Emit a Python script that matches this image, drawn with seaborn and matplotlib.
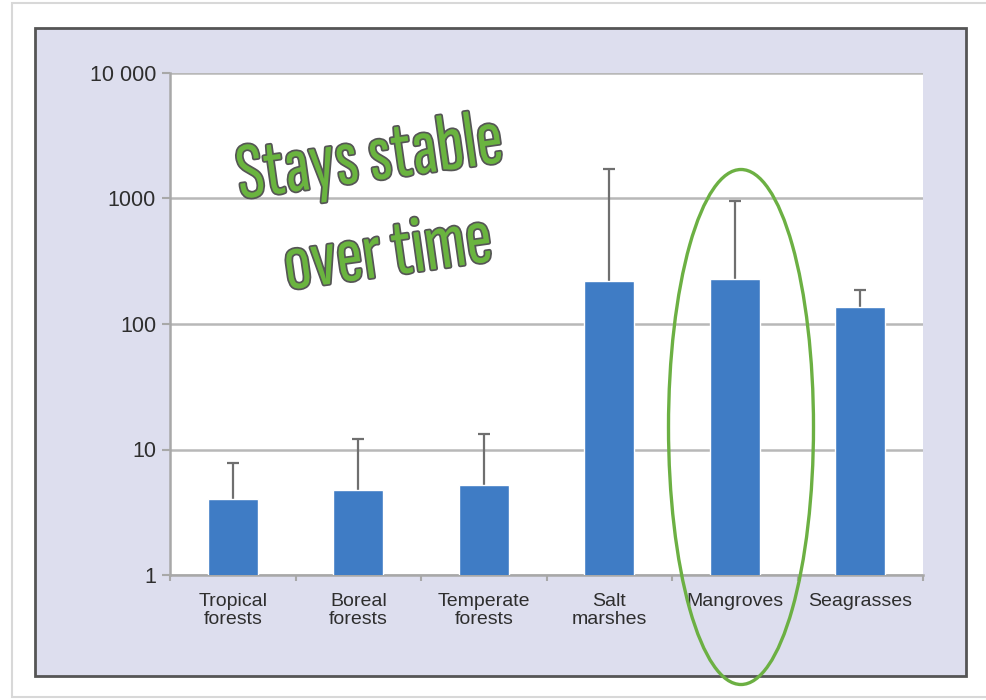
import matplotlib
matplotlib.use("Agg")
import matplotlib.pyplot as plt
import matplotlib.patches as mpatches
import matplotlib.patheffects as pe
from matplotlib.ticker import FixedLocator, NullLocator
import seaborn as sns
import numpy as np
import pandas as pd

categories = ["Tropical\nforests", "Boreal\nforests", "Temperate\nforests",
              "Salt\nmarshes", "Mangroves", "Seagrasses"]
means = [4.0, 4.75, 5.2, 220, 228, 137]
upper = [7.8, 12.1, 13.3, 1720, 955, 186]
ytick_vals = [1, 10, 100, 1000, 10000]
ytick_labels = ["1", "10", "100", "1000", "10 000"]

sns.set_theme(style="white")
plt.rcParams['font.family'] = ["Liberation Sans", "DejaVu Sans"]

fig = plt.figure(figsize=(9.86, 7.0), dpi=100)
fig.patch.set_facecolor("white")

W, H = 986, 700
def fx(x): return x / W
def fy(y): return 1 - y / H

# outer light frame
fig.add_artist(mpatches.Rectangle((fx(12), fy(697)), fx(1000 - 12), 694 / H,
                                  transform=fig.transFigure, facecolor="white",
                                  edgecolor="#d8d8d8", lw=1.5, zorder=0))
# lavender panel
fig.add_artist(mpatches.Rectangle((fx(35), fy(676)), fx(966 - 35), (676 - 28) / H,
                                  transform=fig.transFigure, facecolor="#dddeee",
                                  edgecolor="#555555", lw=2, zorder=0.5))

ax = fig.add_axes([fx(170), fy(575), fx(923 - 170), (575 - 73) / H])
ax.set_zorder(1)
ax.set_facecolor("white")

df = pd.DataFrame({"cat": categories, "val": means})
sns.barplot(data=df, x="cat", y="val", color="#3f7cc5", width=0.4,
            saturation=1, ax=ax, zorder=3)
ax.set_yscale("log")
ax.set_ylim(1, 10000)
ax.set_xlim(-0.5, len(categories) - 0.5)

xs = np.arange(len(categories))
ax.vlines(xs, means, upper, color="#6f6f6f", lw=1.6, zorder=2)
ax.plot(xs, upper, ls="none", marker="_", ms=9, mew=1.6, color="#6f6f6f", zorder=2)

ax.yaxis.set_major_locator(FixedLocator(ytick_vals))
ax.yaxis.set_minor_locator(NullLocator())
ax.set_yticklabels(ytick_labels)
ax.grid(axis="y", color="#b8b8b8", lw=1.8, zorder=0)
ax.set_axisbelow(True)
ax.set_xlabel("")
ax.set_ylabel("")
for s in ["top", "right"]:
    ax.spines[s].set_visible(False)
for s in ["left", "bottom"]:
    ax.spines[s].set_color("#a8a8a8")
    ax.spines[s].set_linewidth(1.8)

ax.tick_params(axis="y", which="major", left=True, length=6, width=1.5,
               color="#a8a8a8", labelsize=15.5, labelcolor="#2e2e2e", pad=4)
ax.set_xticks(xs)
ax.set_xticklabels(categories)
ax.tick_params(axis="x", which="major", bottom=False, labelsize=14,
               labelcolor="#2e2e2e", pad=7)
ax.set_xticks(np.arange(len(categories) + 1) - 0.5, minor=True)
ax.tick_params(axis="x", which="minor", bottom=True, length=4, width=1.5,
               color="#a8a8a8")
for lbl in ax.get_xticklabels():
    lbl.set_linespacing(1.05)

# annotation
stroke = [pe.withStroke(linewidth=2.5, foreground="#555555")]
afam = ["Sofia Sans Extra Condensed", "Saira ExtraCondensed", "PT Sans Narrow", "DejaVu Sans"]
fig.text(fx(370), fy(160), "Stays stable", fontsize=58, color="#6ab43f", family=afam,
         fontweight="light", rotation=8, ha="center", va="center",
         path_effects=stroke, zorder=5)
fig.text(fx(388), fy(255), "over time", fontsize=58, color="#6ab43f", family=afam,
         fontweight="light", rotation=8, ha="center", va="center",
         path_effects=stroke, zorder=5)

fig.add_artist(mpatches.Ellipse((fx(741), fy(427)), fx(145), 515 / H,
                                transform=fig.transFigure, fill=False,
                                edgecolor="#6cb043", lw=2.4, zorder=6))

fig.savefig("out.png", dpi=100)
